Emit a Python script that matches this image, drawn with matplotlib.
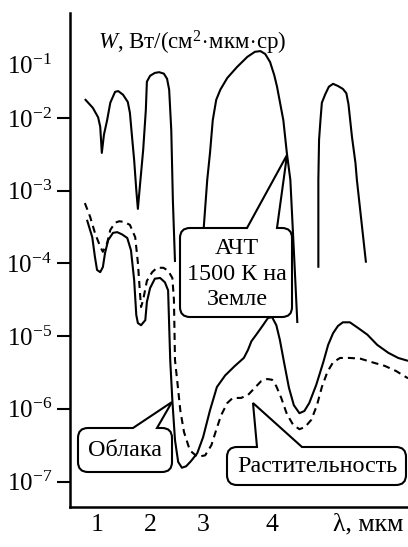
"""Spectral radiance: blackbody 1500 K, clouds, vegetation."""

import numpy as np
import matplotlib
matplotlib.use("Agg")
import matplotlib.pyplot as plt
from matplotlib.path import Path
from matplotlib.patches import PathPatch
from matplotlib.ticker import FixedLocator, FixedFormatter
import matplotlib.transforms as mtransforms

plt.rcParams["font.family"] = ["Liberation Serif", "DejaVu Serif"]
plt.rcParams["mathtext.fontset"] = "custom"
plt.rcParams["mathtext.rm"] = "Liberation Serif"
plt.rcParams["mathtext.it"] = "Liberation Serif:italic"

# --- data: wavelength (um) and log10 W ---
bb1_lam = [0.77, 0.92, 1.02, 1.06, 1.09, 1.13, 1.19, 1.25, 1.34, 1.40, 1.49, 1.58, 1.62, 1.66,
           1.70, 1.74, 1.77, 1.81, 1.87, 1.92, 1.94, 2.00, 2.09, 2.17, 2.26, 2.32, 2.36, 2.40,
           2.43, 2.47]
bb1_logw = [-1.74, -1.86, -1.99, -2.12, -2.48, -2.23, -2.03, -1.79, -1.64, -1.63, -1.68, -1.78,
            -1.93, -2.26, -2.58, -2.99, -3.25, -2.92, -2.44, -1.89, -1.50, -1.42, -1.38, -1.37,
            -1.39, -1.46, -1.61, -2.17, -3.13, -3.98]

bb2_lam = [3.00, 3.01, 3.06, 3.10, 3.14, 3.19, 3.25, 3.35, 3.49, 3.64, 3.75, 3.83, 3.90, 3.97,
           4.03, 4.07, 4.16, 4.21, 4.26, 4.31, 4.36]
bb2_logw = [-3.68, -3.50, -2.85, -2.48, -2.03, -1.75, -1.61, -1.45, -1.30, -1.16, -1.09, -1.08,
            -1.12, -1.23, -1.41, -1.57, -2.03, -2.48, -2.85, -3.82, -4.82]

bb3_lam = [4.66, 4.66, 4.67, 4.69, 4.71, 4.76, 4.81, 4.87, 4.94, 5.01, 5.06, 5.09, 5.14, 5.19,
           5.21, 5.34]
bb3_logw = [-4.06, -2.85, -2.30, -2.03, -1.79, -1.67, -1.57, -1.53, -1.56, -1.60, -1.66, -1.81,
            -2.26, -2.62, -2.85, -3.99]

cloud_lam = [0.81, 0.91, 0.96, 1.00, 1.06, 1.11, 1.15, 1.21, 1.30, 1.38, 1.47, 1.57, 1.64, 1.70,
             1.74, 1.77, 1.83, 1.91, 1.94, 2.00, 2.09, 2.19, 2.28, 2.34, 2.38, 2.42, 2.47, 2.53,
             2.60, 2.68, 2.77, 2.89, 3.00, 3.10, 3.20, 3.32, 3.46, 3.59, 3.65, 3.70, 3.77, 3.86,
             3.94, 4.00, 4.06, 4.11, 4.17, 4.24, 4.31, 4.39, 4.46, 4.53, 4.63, 4.73, 4.80, 4.87,
             4.94, 5.01, 5.11, 5.23, 5.36, 5.50, 5.66, 5.80, 5.94]
cloud_logw = [-3.40, -3.64, -3.91, -4.09, -4.12, -4.05, -3.86, -3.68, -3.58, -3.57, -3.60, -3.65,
              -3.82, -4.23, -4.71, -4.82, -4.85, -4.78, -4.53, -4.34, -4.21, -4.20, -4.26, -4.37,
              -5.33, -5.88, -6.43, -6.73, -6.81, -6.79, -6.72, -6.61, -6.39, -6.02, -5.70, -5.54,
              -5.41, -5.30, -5.19, -5.07, -4.98, -4.86, -4.75, -4.74, -4.85, -5.05, -5.36, -5.71,
              -5.95, -6.06, -6.03, -5.92, -5.67, -5.36, -5.12, -4.96, -4.86, -4.81, -4.81, -4.89,
              -4.98, -5.12, -5.23, -5.30, -5.34]

veg_lam = [0.77, 0.87, 0.96, 1.06, 1.11, 1.19, 1.25, 1.34, 1.42, 1.51, 1.62, 1.72, 1.77, 1.81,
           1.83, 1.87, 1.94, 2.04, 2.13, 2.25, 2.34, 2.42, 2.45, 2.47, 2.51, 2.57, 2.64, 2.75,
           2.89, 3.03, 3.12, 3.19, 3.26, 3.35, 3.43, 3.55, 3.65, 3.75, 3.84, 3.93, 4.00, 4.06,
           4.13, 4.21, 4.30, 4.39, 4.47, 4.56, 4.64, 4.71, 4.79, 4.87, 4.97, 5.11, 5.26, 5.43,
           5.61, 5.77, 5.94]
veg_logw = [-3.17, -3.36, -3.58, -3.77, -3.84, -3.72, -3.54, -3.44, -3.42, -3.43, -3.47, -3.64,
            -3.99, -4.41, -4.60, -4.50, -4.24, -4.12, -4.06, -4.06, -4.10, -4.20, -4.50, -5.33,
            -5.60, -6.02, -6.32, -6.57, -6.66, -6.64, -6.50, -6.29, -6.09, -5.92, -5.85, -5.85,
            -5.81, -5.71, -5.62, -5.59, -5.60, -5.69, -5.85, -6.07, -6.22, -6.28, -6.25, -6.15,
            -5.95, -5.70, -5.49, -5.36, -5.30, -5.30, -5.31, -5.36, -5.41, -5.48, -5.58]

x_ticks = [1, 2, 3, 4, 5.37]
x_ticklabels = ["1", "2", "3", "4", "λ, мкм"]
y_ticks = [1e-2, 1e-3, 1e-4, 1e-5, 1e-6, 1e-7]
y_ticklabels = [r"$10^{-%d}$" % k for k in range(2, 8)]
ylabel = r"$\mathit{W}$, Вт/(см$^2\!\cdot\!$мкм$\!\cdot\!$ср)"

# the original axis is not uniform in wavelength
lam_knots = [0.0, 1.0, 2.0, 3.0, 4.0, 7.0]
pos_knots = [44.0, 97.0, 150.0, 203.0, 272.0, 482.0]


def fwd(x):
    return np.interp(x, lam_knots, pos_knots)


def inv(p):
    return np.interp(p, pos_knots, lam_knots)


W, H = 408, 547
fig = plt.figure(figsize=(W / 100, H / 100), dpi=100)
ax = fig.add_axes([70 / W, 40 / H, 338 / W, 494 / H])
ax.set_xscale("function", functions=(fwd, inv))
ax.set_yscale("log")

kw = dict(color="black", lw=1.5, solid_joinstyle="round", solid_capstyle="butt")
for lam, lw_ in [(bb1_lam, bb1_logw), (bb2_lam, bb2_logw), (bb3_lam, bb3_logw), (cloud_lam, cloud_logw)]:
    ax.plot(lam, 10 ** np.array(lw_), **kw)
ax.plot(veg_lam, 10 ** np.array(veg_logw), color="black", lw=1.5, dashes=(3.4, 2.4))

ax.set_xlim(0.49, 5.94)
ax.set_ylim(10 ** -7.35, 10 ** -0.556)

for s in ["top", "right"]:
    ax.spines[s].set_visible(False)
for s in ["left", "bottom"]:
    ax.spines[s].set_linewidth(1.8)

ax.xaxis.set_major_locator(FixedLocator(x_ticks))
ax.xaxis.set_major_formatter(FixedFormatter(x_ticklabels))
ax.xaxis.set_minor_locator(FixedLocator([]))
ax.tick_params(axis="x", length=0, pad=5, labelsize=18.5)

ax.yaxis.set_major_locator(FixedLocator(y_ticks))
ax.yaxis.set_major_formatter(FixedFormatter(y_ticklabels))
ax.yaxis.set_minor_locator(FixedLocator([10 ** -1.26]))
ax.yaxis.set_minor_formatter(FixedFormatter([r"$10^{-1}$"]))
ax.tick_params(axis="y", which="major", direction="out", length=9.5, width=1.5, pad=3.5, labelsize=18)
ax.tick_params(axis="y", which="minor", length=0, pad=13, labelsize=18)

# pixel coordinates (y down) for annotations
px = mtransforms.Affine2D().scale(1 / W, -1 / H).translate(0, 1) + fig.transFigure

ax.text(192, 43, ylabel, transform=px, ha="center", va="center", fontsize=16.5)


def callout(x0, y0, x1, y1, b0, b1, apex, r=10):
    verts = [(x0 + r, y0), (b0, y0), apex, (b1, y0), (x1 - r, y0),
             (x1, y0), (x1, y0 + r), (x1, y1 - r), (x1, y1), (x1 - r, y1),
             (x0 + r, y1), (x0, y1), (x0, y1 - r), (x0, y0 + r), (x0, y0), (x0 + r, y0),
             (x0 + r, y0)]
    codes = [Path.MOVETO, Path.LINETO, Path.LINETO, Path.LINETO, Path.LINETO,
             Path.CURVE3, Path.CURVE3, Path.LINETO, Path.CURVE3, Path.CURVE3,
             Path.LINETO, Path.CURVE3, Path.CURVE3, Path.LINETO, Path.CURVE3, Path.CURVE3,
             Path.CLOSEPOLY]
    p = PathPatch(Path(verts, codes), facecolor="white", edgecolor="black", lw=1.5,
                  transform=px, zorder=5)
    p.set_clip_on(False)
    ax.add_artist(p)


callout(180, 228, 292, 317, 247, 277, (287, 155))
ax.text(237, 274, "АЧТ\n1500 К на\nЗемле", transform=px, ha="center", va="center",
        fontsize=17.4, linespacing=1.3, zorder=6)

callout(78, 428, 172, 472, 133, 157, (172, 402))
ax.text(125, 451, "Облака", transform=px, ha="center", va="center", fontsize=17.4, zorder=6)

callout(227, 447, 406, 485, 257, 302, (253, 403))
ax.text(317, 467, "Растительность", transform=px, ha="center", va="center", fontsize=17.4, zorder=6)

fig.savefig("out.png", dpi=100)
plt.close(fig)
